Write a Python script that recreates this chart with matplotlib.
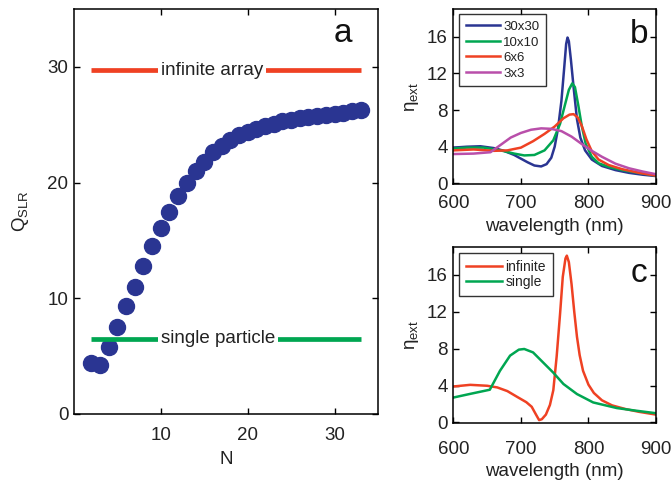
import matplotlib
matplotlib.use("Agg")
import matplotlib.pyplot as plt

plt.rcParams['font.family'] = ['Liberation Sans', 'DejaVu Sans']
plt.rcParams['mathtext.fontset'] = 'custom'
plt.rcParams['mathtext.rm'] = 'Liberation Sans'
plt.rcParams['mathtext.it'] = 'Liberation Sans:italic'

# ---------------- data ----------------
N_vals = list(range(2, 34))
Q_vals = [4.42, 4.22, 5.8, 7.5, 9.3, 11.0, 12.8, 14.5, 16.1, 17.5, 18.85, 20.0,
          21.0, 21.8, 22.6, 23.2, 23.7, 24.1, 24.4, 24.65, 24.9, 25.1, 25.3, 25.4,
          25.55, 25.65, 25.75, 25.85, 25.95, 26.05, 26.15, 26.3]
Q_infinite = 29.7
Q_single = 6.5
N_line = [2, 33]

wl_30 = [600, 620, 640, 660, 675, 690, 700, 710, 720, 730, 738, 745, 750, 755, 760,
         764, 767, 769, 771, 774, 778, 783, 788, 795, 805, 820, 840, 860, 880, 900]
eta_30 = [3.9, 4.0, 4.05, 3.85, 3.55, 3.1, 2.7, 2.3, 1.95, 1.85, 2.1, 2.8, 4.0, 6.0, 9.0,
          12.5, 15.2, 15.9, 15.5, 13.5, 10.5, 7.0, 5.0, 3.6, 2.6, 1.9, 1.45, 1.15, 0.95, 0.8]

wl_10 = [600, 620, 645, 670, 690, 705, 720, 735, 748, 758, 765, 771, 776, 780, 785,
         790, 796, 805, 815, 830, 850, 870, 900]
eta_10 = [3.8, 3.9, 3.9, 3.6, 3.25, 3.05, 3.1, 3.6, 4.7, 6.5, 8.5, 10.2, 10.9, 10.5, 8.5,
          6.3, 4.3, 2.9, 2.2, 1.8, 1.45, 1.2, 0.85]

wl_6 = [600, 630, 660, 680, 700, 718, 735, 750, 763, 772, 778, 784, 790, 797, 805,
        815, 830, 850, 875, 900]
eta_6 = [3.6, 3.7, 3.55, 3.6, 3.9, 4.6, 5.4, 6.2, 7.1, 7.5, 7.55, 7.2, 6.3, 4.8, 3.5,
         2.6, 2.0, 1.55, 1.15, 0.85]

wl_3 = [600, 630, 655, 670, 685, 700, 715, 730, 745, 760, 775, 790, 805, 820, 840,
        860, 880, 900]
eta_3 = [3.2, 3.25, 3.4, 4.2, 5.0, 5.5, 5.85, 6.0, 5.95, 5.7, 5.1, 4.3, 3.55, 2.9, 2.15,
         1.65, 1.3, 1.0]

wl_inf = [600, 625, 650, 665, 680, 695, 708, 716, 722, 727, 731, 737, 743, 748, 753,
          758, 762, 766, 768, 771, 775, 779, 783, 787, 792, 800, 808, 820, 835, 855,
          875, 900]
eta_inf = [3.9, 4.08, 3.98, 3.8, 3.4, 2.75, 2.2, 1.7, 0.9, 0.25, 0.35, 0.85, 1.9, 3.5, 7.2,
           11.8, 15.8, 17.8, 18.1, 17.4, 15.0, 12.0, 9.3, 7.3, 5.6, 4.1, 3.2, 2.4, 1.85, 1.45,
           1.15, 0.85]

wl_single = [600, 625, 654, 669, 684, 697, 705, 718, 733, 748, 763, 783, 807, 842, 871, 900]
eta_single = [2.7, 3.1, 3.55, 5.6, 7.25, 7.9, 7.97, 7.6, 6.5, 5.4, 4.17, 3.08, 2.17, 1.56,
              1.27, 1.0]

labels_b = ['30x30', '10x10', '6x6', '3x3']
labels_c = ['infinite', 'single']

# ---------------- style ----------------
BLUE = '#2a3592'
GREEN = '#00a651'
RED = '#ef4123'
MAGENTA = '#b94faa'
TXT = '#222222'
TICK_FS = 13.5
LABEL_FS = 13.5
PANEL_FS = 24


def style_axes(ax, xpad):
    ax.tick_params(direction='in', top=True, right=True, length=4, width=1,
                   labelsize=TICK_FS, labelcolor=TXT)
    ax.tick_params(axis='x', pad=xpad)
    ax.tick_params(axis='y', pad=4)
    for s in ax.spines.values():
        s.set_linewidth(1.1)


def make_legend(ax, anchor, fs, ls):
    leg = ax.legend(loc='upper left', bbox_to_anchor=anchor, borderaxespad=0,
                    fontsize=fs, frameon=True, fancybox=False, handlelength=2.6,
                    handletextpad=0.25, labelspacing=ls, borderpad=0.5)
    leg.get_frame().set_edgecolor('black')
    leg.get_frame().set_linewidth(1.0)
    for t in leg.get_texts():
        t.set_color(TXT)
    return leg


fig = plt.figure(figsize=(6.72, 4.8), dpi=100)

# ---------- panel a ----------
axa = fig.add_axes([0.110, 0.1375, 0.4524, 0.84375])
axa.plot(N_line, [Q_infinite] * 2, color=RED, lw=3.4, solid_capstyle='butt', zorder=3)
axa.plot(N_line, [Q_single] * 2, color=GREEN, lw=3.4, solid_capstyle='butt', zorder=3)
axa.plot(N_vals, Q_vals, 'o', color=BLUE, ms=11.5, mec=BLUE, zorder=2)
axa.text(10, Q_infinite, 'infinite array', fontsize=13.5, ha='left', va='center',
         color=TXT, zorder=4,
         bbox=dict(facecolor='white', edgecolor='none', pad=2.0))
axa.text(10, Q_single, 'single particle', fontsize=13.5, ha='left', va='center',
         color=TXT, zorder=4,
         bbox=dict(facecolor='white', edgecolor='none', pad=2.0))
axa.set_xlim(0, 35)
axa.set_ylim(0, 35)
axa.set_xticks([10, 20, 30])
axa.set_yticks([0, 10, 20, 30])
axa.set_xlabel('N', fontsize=LABEL_FS, labelpad=5, color=TXT)
axa.set_ylabel(r'Q$_{\rm SLR}$', fontsize=LABEL_FS, labelpad=12, color=TXT)
axa.text(0.885, 0.919, 'a', transform=axa.transAxes, fontsize=PANEL_FS,
         ha='center', va='baseline', color='#111111')
style_axes(axa, 9.5)

# ---------- panel b ----------
axb = fig.add_axes([0.6746, 0.616, 0.3016, 0.365])
axb.plot(wl_30, eta_30, color=BLUE, lw=1.8, label=labels_b[0])
axb.plot(wl_10, eta_10, color=GREEN, lw=1.8, label=labels_b[1])
axb.plot(wl_6, eta_6, color=RED, lw=1.8, label=labels_b[2])
axb.plot(wl_3, eta_3, color=MAGENTA, lw=1.8, label=labels_b[3])
axb.set_xlim(600, 900)
axb.set_ylim(-0.1, 19)
axb.set_xticks([600, 700, 800, 900])
axb.set_yticks([0, 4, 8, 12, 16])
axb.set_xlabel('wavelength (nm)', fontsize=LABEL_FS, labelpad=4, color=TXT)
axb.set_ylabel(r'η$_{\rm ext}$', fontsize=LABEL_FS, labelpad=4, color=TXT)
axb.text(0.916, 0.804, 'b', transform=axb.transAxes, fontsize=PANEL_FS,
         ha='center', va='baseline', color='#111111')
make_legend(axb, (0.028, 0.971), 9.5, 0.25)
style_axes(axb, 8)

# ---------- panel c ----------
axc = fig.add_axes([0.6746, 0.118, 0.3016, 0.3667])
axc.plot(wl_inf, eta_inf, color=RED, lw=1.8, label=labels_c[0])
axc.plot(wl_single, eta_single, color=GREEN, lw=1.8, label=labels_c[1])
axc.set_xlim(600, 900)
axc.set_ylim(-0.1, 19)
axc.set_xticks([600, 700, 800, 900])
axc.set_yticks([0, 4, 8, 12, 16])
axc.set_xlabel('wavelength (nm)', fontsize=LABEL_FS, labelpad=3, color=TXT)
axc.set_ylabel(r'η$_{\rm ext}$', fontsize=LABEL_FS, labelpad=4, color=TXT)
axc.text(0.916, 0.805, 'c', transform=axc.transAxes, fontsize=PANEL_FS,
         ha='center', va='baseline', color='#111111')
make_legend(axc, (0.028, 0.969), 10, 0.1)
style_axes(axc, 13)

fig.savefig('out.png', dpi=100)
